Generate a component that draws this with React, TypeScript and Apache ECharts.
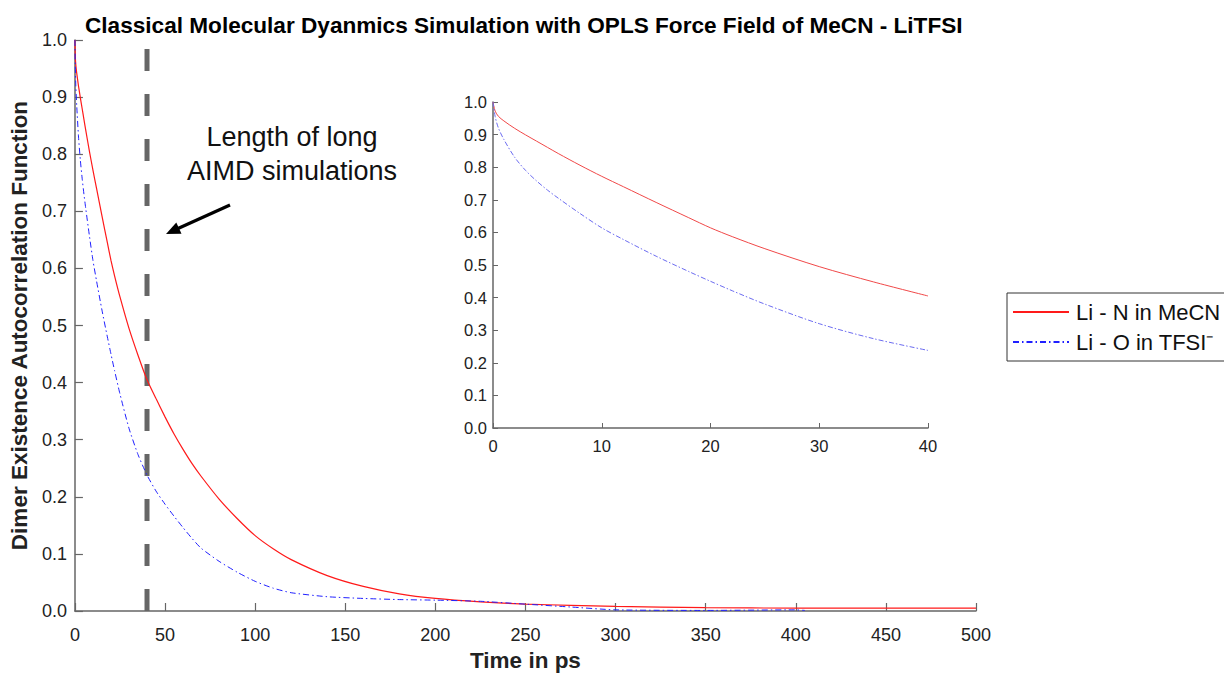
import React, { useEffect, useRef } from "react";
import * as echarts from "echarts";

const FONT = 'Arial, "Liberation Sans", Helvetica, sans-serif';

const titleText = "Classical Molecular Dyanmics Simulation with OPLS Force Field of MeCN - LiTFSI";
const xName = "Time in ps";
const yName = "Dimer Existence Autocorrelation Function";
const seriesNames = ["Li - N in MeCN", "Li - O in TFSI\u207B"];
const annotation = "Length of long\nAIMD simulations";
const aimdLength = 40;

const times = [
  0, 0.2, 0.5, 1, 2, 3, 4, 5, 6, 8,
  10, 12, 15, 18, 20, 22, 25, 30, 35, 40,
  45, 50, 55, 60, 65, 70, 80, 90, 100, 110,
  120, 140, 160, 180, 200, 225, 250, 275, 300, 350,
  400, 405, 450, 500,
];

const liN = [
  1.0, 0.972, 0.956, 0.942, 0.919, 0.899, 0.88, 0.861, 0.842, 0.806,
  0.772, 0.74, 0.692, 0.645, 0.614, 0.587, 0.55, 0.495, 0.448, 0.405,
  0.372, 0.34, 0.31, 0.283, 0.258, 0.236, 0.196, 0.162, 0.132, 0.109,
  0.09, 0.062, 0.043, 0.03, 0.022, 0.016, 0.012, 0.01, 0.008, 0.006,
  0.005, 0.005, 0.005, 0.005,
];

const liO = [
  1.0, 0.955, 0.92, 0.885, 0.83, 0.79, 0.758, 0.73, 0.705, 0.658,
  0.614, 0.578, 0.527, 0.48, 0.45, 0.421, 0.38, 0.32, 0.274, 0.238,
  0.21, 0.187, 0.166, 0.146, 0.127, 0.11, 0.087, 0.068, 0.052, 0.04,
  0.032, 0.025, 0.022, 0.02, 0.019, 0.017, 0.012, 0.007, 0.002, 0.001,
  0.002, 0.001, null, null,
];

const RED = "#ff1a1a";
const BLUE = "#2020ff";
const AXIS = "#666666";

function pairs(vals: (number | null)[], maxT: number) {
  const out: [number, number][] = [];
  times.forEach((t, i) => {
    const v = vals[i];
    if (t <= maxT && v !== null) out.push([t, v]);
  });
  return out;
}

export default function App() {
  const ref = useRef<HTMLDivElement>(null);
  useEffect(() => {
    if (!ref.current) return;
    const chart = echarts.init(ref.current, undefined, { renderer: "svg" });
    const axisCommon = {
      type: "value" as const,
      axisLine: { show: true, onZero: false, lineStyle: { color: AXIS, width: 1.5 } },
      splitLine: { show: false },
    };
    const option: any = {
      animation: false,
      backgroundColor: "#ffffff",
      textStyle: { fontFamily: FONT },
      title: {
        text: titleText,
        left: 85,
        top: 14,
        padding: 0,
        textStyle: { fontSize: 22.6, fontWeight: "bold", color: "#000", fontFamily: FONT },
      },
      legend: {
        data: seriesNames,
        orient: "vertical",
        left: 1007,
        top: 293,
        padding: [8, 20, 8, 5],
        itemGap: 8,
        itemWidth: 56,
        itemHeight: 14,
        borderColor: "#333",
        borderWidth: 1,
        itemStyle: { opacity: 0 },
        textStyle: { fontSize: 22, color: "#111", fontFamily: FONT, padding: [0, 0, 0, 2] },
      },
      grid: [
        { left: 73, top: 40, width: 903, height: 575 },
        { left: 493, top: 102, width: 435, height: 326 },
      ],
      xAxis: [
        {
          ...axisCommon,
          gridIndex: 0,
          min: 0,
          max: 500,
          interval: 50,
          name: xName,
          nameLocation: "middle",
          nameGap: 38,
          nameTextStyle: { fontSize: 22.5, fontWeight: "bold", color: "#222", fontFamily: FONT },
          axisTick: { show: true, inside: true, length: 8, lineStyle: { color: AXIS, width: 1.2 } },
          axisLabel: { margin: 15, fontSize: 18, color: "#222", fontFamily: FONT },
        },
        {
          ...axisCommon,
          gridIndex: 1,
          min: 0,
          max: 40,
          interval: 10,
          axisTick: { show: true, inside: true, length: 5, lineStyle: { color: AXIS, width: 1 } },
          axisLabel: { margin: 9, fontSize: 16.5, color: "#222", fontFamily: FONT },
        },
      ],
      yAxis: [
        {
          ...axisCommon,
          gridIndex: 0,
          min: 0,
          max: 1,
          interval: 0.1,
          name: yName,
          nameLocation: "middle",
          nameGap: 40,
          nameTextStyle: { fontSize: 22.5, fontWeight: "bold", color: "#222", fontFamily: FONT },
          axisTick: { show: true, inside: true, length: 8, lineStyle: { color: AXIS, width: 1.2 } },
          axisLabel: { margin: 8, fontSize: 18, color: "#222", fontFamily: FONT, formatter: (v: number) => v.toFixed(1) },
        },
        {
          ...axisCommon,
          gridIndex: 1,
          min: 0,
          max: 1,
          interval: 0.1,
          axisTick: { show: true, inside: true, length: 5, lineStyle: { color: AXIS, width: 1 } },
          axisLabel: { margin: 6, fontSize: 16.5, color: "#222", fontFamily: FONT, formatter: (v: number) => v.toFixed(1) },
        },
      ],
      series: [
        {
          name: "AIMD length",
          type: "line",
          xAxisIndex: 0,
          yAxisIndex: 0,
          data: [[aimdLength, 0], [aimdLength, 1]],
          symbol: "none",
          lineStyle: { color: "#666", width: 5, type: [22, 23] },
          silent: true,
          z: 1,
        },
        {
          name: seriesNames[0],
          type: "line",
          xAxisIndex: 0,
          yAxisIndex: 0,
          data: pairs(liN, 500),
          symbol: "none",
          smooth: 0.2,
          color: RED,
          lineStyle: { color: RED, width: 1.2 },
          z: 3,
        },
        {
          name: seriesNames[1],
          type: "line",
          xAxisIndex: 0,
          yAxisIndex: 0,
          data: pairs(liO, 500),
          symbol: "none",
          smooth: 0.2,
          color: BLUE,
          lineStyle: { color: BLUE, width: 1, type: [6, 3, 1.5, 3] },
          z: 3,
        },
        {
          name: "inset-N",
          type: "line",
          xAxisIndex: 1,
          yAxisIndex: 1,
          data: pairs(liN, 40),
          symbol: "none",
          smooth: 0.3,
          lineStyle: { color: "#f04848", width: 1 },
        },
        {
          name: "inset-O",
          type: "line",
          xAxisIndex: 1,
          yAxisIndex: 1,
          data: pairs(liO, 40),
          symbol: "none",
          smooth: 0.3,
          lineStyle: { color: "#6c6cf0", width: 1, type: [5, 2, 1.5, 2] },
        },
      ],
      graphic: [
        {
          type: "text",
          x: 292,
          y: 154,
          style: {
            text: annotation,
            fill: "#111",
            font: `27px ${FONT}`,
            align: "center",
            verticalAlign: "middle",
            lineHeight: 34,
          },
        },
        {
          type: "line",
          shape: { x1: 230, y1: 205, x2: 178, y2: 228.5 },
          style: { stroke: "#000", lineWidth: 3.2 },
        },
        {
          type: "polygon",
          shape: { points: [[166, 234], [181.5, 233.8], [176.3, 222.5]] },
          style: { fill: "#000" },
        },
      ],
    };
    chart.setOption(option);
    return () => chart.dispose();
  }, []);
  return (
    <div
      ref={ref}
      style={{ position: "absolute", left: 0, top: 0, width: 1224, height: 677, background: "#fff" }}
    />
  );
}
